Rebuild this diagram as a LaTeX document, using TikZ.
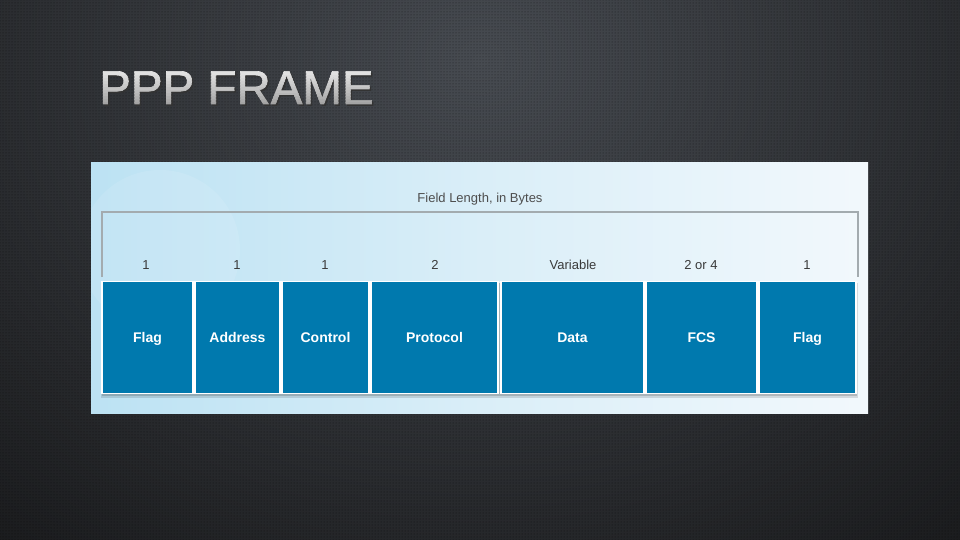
\documentclass[tikz,border=0pt]{standalone}
\usepackage{fontspec}
\setmainfont{Liberation Sans}
\newfontfamily\titlefont[FakeBold=1.3]{Liberation Sans}
\usetikzlibrary{patterns}
\definecolor{bgdark}{HTML}{1A1B1D}
\definecolor{bglight}{HTML}{474B51}
\definecolor{panelL}{HTML}{BCE2F3}
\definecolor{panelR}{HTML}{F2F8FC}
\definecolor{boxblue}{HTML}{0079AE}
\definecolor{brk}{HTML}{A3ABAF}
\definecolor{numtxt}{HTML}{3A3A3A}
\definecolor{titlelow}{HTML}{A4A4A4}
\definecolor{titlehigh}{HTML}{F4F4F4}
\tikzset{
  fieldbox/.style={draw=white, line width=1.2pt, fill=boxblue, text=white,
    font=\fontsize{14}{16}\selectfont\bfseries, inner sep=0pt,
    text height=10pt, text depth=0pt, minimum height=112pt},
  numlabel/.style={text=numtxt, font=\fontsize{13}{15}\selectfont, inner sep=0pt,
    text height=9.5pt, text depth=0pt},
  titletext/.style={anchor=base west, inner sep=0pt, font=\titlefont\fontsize{47.5}{50}\selectfont},
}
\begin{document}
\begin{tikzpicture}[x=1pt,y=-1pt]
\useasboundingbox (0,0) rectangle (960,540);
% background
\begin{scope}
\clip (0,0) rectangle (960,540);
\fill[bgdark] (0,0) rectangle (960,540);
\shade[inner color=bglight, outer color=bgdark] (480,60) ellipse (760 and 640);
\fill[pattern=dots, pattern color=black, opacity=0.6] (0,0) rectangle (960,540);
\end{scope}
% title (stepped vertical gradient)
\node[titletext, text=black!80] (shadow) at (100.5,105.5) {PPP FRAME};
\foreach \i in {0,...,13} {
  \pgfmathsetmacro{\pc}{100-\i*100/13}
  \begin{scope}
    \clip (90,{64+\i*3}) rectangle (385,{\i==13 ? 120 : 64+(\i+1)*3});
    \node[titletext, text=titlehigh!\pc!titlelow] at (99,104) {PPP FRAME};
  \end{scope}
}
\node[titletext, opacity=0] (title) at (99,104) {PPP FRAME};
% panel
\begin{scope}
\clip (91,163) rectangle (868,413);
\shade[left color=panelL, right color=panelR, middle color=panelR!55!panelL] (91,163) rectangle (868,413);
\fill[white, opacity=0.10] (160,250) circle (80);
\end{scope}
% bracket
\coordinate (bl) at (102,277);
\coordinate (tl) at (102,212);
\coordinate (tr) at (858,212);
\coordinate (br) at (858,277);
\draw[brk, line width=1.6pt] (bl) -- (tl) -- (tr) -- (br);
\node[numlabel, text=numtxt!90, anchor=base] (hdr) at (480,202) {Field Length, in Bytes};
% shadow under boxes
\fill[black, opacity=0.12] (101,283) rectangle (858,398);
\fill[black, opacity=0.15] (102,283) rectangle (857,396);
% boxes
\node[fieldbox, minimum width=91pt] (f1) at (147.5,337.5) {Flag};
\node[fieldbox, minimum width=85pt] (f2) at (237.5,337.5) {Address};
\node[fieldbox, minimum width=87pt] (f3) at (325.5,337.5) {Control};
\node[fieldbox, minimum width=127pt] (f4) at (434.5,337.5) {Protocol};
\node[fieldbox, minimum width=143pt] (f5) at (572.5,337.5) {Data};
\node[fieldbox, minimum width=111pt] (f6) at (701.5,337.5) {FCS};
\node[fieldbox, minimum width=97pt] (f7) at (807.5,337.5) {Flag};
% numbers
\node[numlabel] (n1) at (146,265) {1};
\node[numlabel] (n2) at (237,265) {1};
\node[numlabel] (n3) at (325,265) {1};
\node[numlabel] (n4) at (435,265) {2};
\node[numlabel] (n5) at (573,265) {Variable};
\node[numlabel] (n6) at (701,265) {2 or 4};
\node[numlabel] (n7) at (807,265) {1};
\end{tikzpicture}
\end{document}
